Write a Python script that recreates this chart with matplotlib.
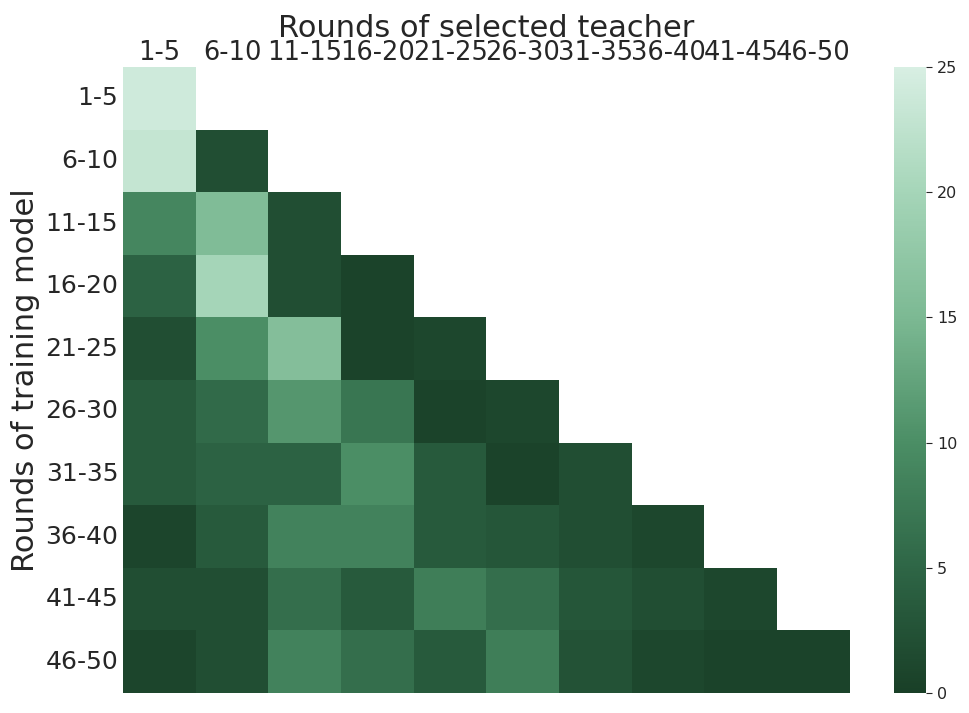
import numpy as np
import pandas as pd
import matplotlib
matplotlib.use("Agg")
import matplotlib.pyplot as plt
from matplotlib.colors import LinearSegmentedColormap
import seaborn as sns

labels = ['1-5', '6-10', '11-15', '16-20', '21-25', '26-30', '31-35', '36-40', '41-45', '46-50']

# lower triangle values, row = training model rounds, col = selected teacher rounds
rows = [
    [24.0],
    [23.0, 2.0],
    [9.0, 15.5, 2.0],
    [4.5, 20.0, 2.0, 0.5],
    [2.0, 10.0, 16.0, 0.5, 1.0],
    [3.5, 5.5, 11.0, 7.0, 0.5, 1.0],
    [3.5, 4.5, 4.5, 10.0, 3.5, 0.5, 2.0],
    [0.8, 3.5, 8.5, 8.5, 3.5, 3.0, 2.0, 1.0],
    [2.0, 2.0, 6.0, 3.5, 8.0, 6.0, 3.0, 2.0, 1.0],
    [0.8, 2.0, 8.5, 6.0, 3.5, 8.0, 2.5, 1.0, 0.5, 0.5],
]

# colour stops (0, 5, 10, 15, 20, 25)
cbar_colors = ['#193f27', '#2e6646', '#4b8e65', '#7cb993', '#a5d5b8', '#d8efe3']

n = len(labels)
data = np.zeros((n, n))
for i, r in enumerate(rows):
    data[i, :len(r)] = r
df = pd.DataFrame(data, index=labels, columns=labels)
mask = np.triu(np.ones((n, n), dtype=bool), k=1)

sns.set_style("white")
fig = plt.figure(figsize=(9.69, 7.13), dpi=100)
ax = fig.add_axes([0.127, 0.028, 0.75, 0.878])
cax = fig.add_axes([0.923, 0.028, 0.033, 0.878])

cmap = LinearSegmentedColormap.from_list('greens', cbar_colors)
sns.heatmap(df, mask=mask, cmap=cmap, vmin=0, vmax=25, ax=ax, cbar_ax=cax)

ax.xaxis.tick_top()
ax.xaxis.set_label_position('top')
ax.set_xlabel('Rounds of selected teacher', fontsize=22, labelpad=2)
ax.set_ylabel('Rounds of training model', fontsize=22, labelpad=4)
ax.tick_params(axis='x', labelsize=18.5, length=0, pad=1, rotation=0)
ax.tick_params(axis='y', labelsize=18, length=0, rotation=0)
cax.tick_params(labelsize=11.5, length=4)
cax.yaxis.set_ticks([0, 5, 10, 15, 20, 25])

fig.savefig("out.png", dpi=100)
